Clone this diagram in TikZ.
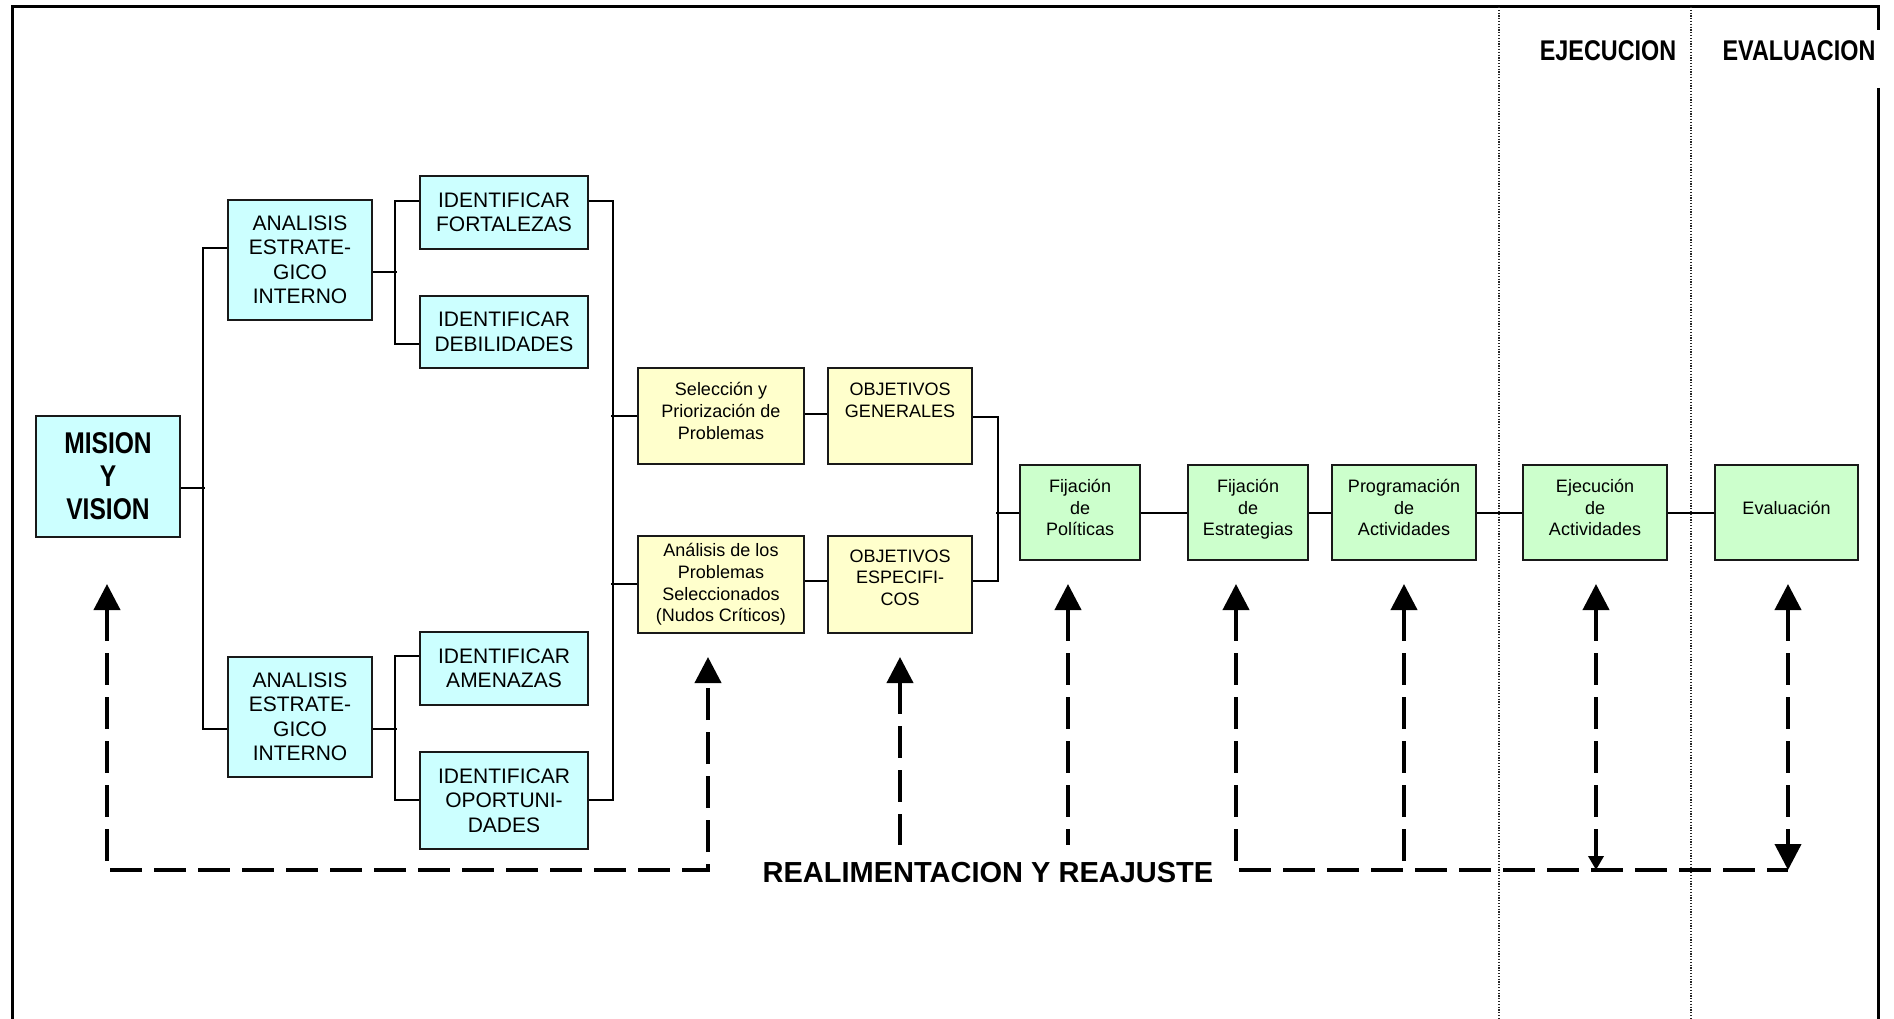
\documentclass[tikz,border=0pt]{standalone}
\usepackage{fontspec}
\setmainfont{Liberation Sans}
\newfontfamily\narrowbold[FakeStretch=0.82]{Liberation Sans}
\usetikzlibrary{arrows.meta,calc}

\definecolor{boxblue}{HTML}{CCFFFF}
\definecolor{boxyellow}{HTML}{FFFFCC}
\definecolor{boxgreen}{HTML}{CCFFCC}

\tikzset{
  box/.style={draw=black!90, line width=2pt, anchor=north west, inner sep=0pt,
              align=center},
  bluebox/.style={box, fill=boxblue, font=\fontsize{21}{24.5}\selectfont},
  yellowbox/.style={box, fill=boxyellow, text depth=10pt, font=\fontsize{18}{21.7}\selectfont},
  greenbox/.style={box, fill=boxgreen, text depth=10pt, font=\fontsize{18}{21.7}\selectfont},
  conn/.style={line width=2pt, black},
  fb/.style={line width=4pt, dash pattern=on 32pt off 12pt, line join=miter},
  >={Triangle[width=26pt,length=26pt]},
  smalltip/.tip={Triangle[width=15pt,length=14pt]},
  header/.style={inner sep=0pt, font=\narrowbold\bfseries\fontsize{28.5}{32}\selectfont},
  sep/.style={line width=1.2pt, black!85, dash pattern=on 1.2pt off 1.6pt},
}

\begin{document}
\begin{tikzpicture}[x=1pt, y=-1pt]
\useasboundingbox (0,0) rectangle (1894,1019);
\fill[white] (0,0) rectangle (1894,1019);

% page frame and phase separators
\draw[line width=3pt, line join=miter] (12,1019) -- (12,7) -- (1878,7) -- (1878,30);
\draw[line width=3pt] (1878,88) -- (1878,1019);
\draw[sep] (1499,7) -- (1499,1019);
\draw[sep] (1691,7) -- (1691,1019);

\node[header] (hej) at (1608,51) {EJECUCION};
\node[header] (hev) at (1799,51) {EVALUACION};

% boxes
\node[bluebox, minimum width=144pt, minimum height=121pt,
      font=\narrowbold\bfseries\fontsize{30}{33}\selectfont] (mv) at (35,415) {MISION\\Y\\VISION};
\node[bluebox, minimum width=144pt, minimum height=120pt] (aet) at (227,199) {ANALISIS\\ESTRATE-\\GICO\\INTERNO};
\node[bluebox, minimum width=168pt, minimum height=73pt] (fort) at (419,175) {IDENTIFICAR\\FORTALEZAS};
\node[bluebox, minimum width=168pt, minimum height=72pt] (deb) at (419,295) {IDENTIFICAR\\DEBILIDADES};
\node[bluebox, minimum width=144pt, minimum height=120pt] (aeb) at (227,656) {ANALISIS\\ESTRATE-\\GICO\\INTERNO};
\node[bluebox, minimum width=168pt, minimum height=73pt] (ame) at (419,631) {IDENTIFICAR\\AMENAZAS};
\node[bluebox, minimum width=168pt, minimum height=97pt] (opo) at (419,751) {IDENTIFICAR\\OPORTUNI-\\DADES};

\node[yellowbox, minimum width=166pt, minimum height=96pt] (sel) at (637,367) {Selección y\\Priorización de\\Problemas};
\node[yellowbox, minimum width=166pt, minimum height=97pt, text depth=3.8pt] (ana) at (637,535) {Análisis de los\\Problemas\\Seleccionados\\(Nudos Críticos)};
\node[yellowbox, minimum width=144pt, minimum height=96pt] (og) at (827,367) {OBJETIVOS\\GENERALES\\\mbox{}};
\node[yellowbox, minimum width=144pt, minimum height=97pt, text depth=14pt] (oe) at (827,535) {OBJETIVOS\\ESPECIFI-\\COS};

\node[greenbox, minimum width=120pt, minimum height=95pt] (fp) at (1019,464) {Fijación\\de\\Políticas};
\node[greenbox, minimum width=120pt, minimum height=95pt] (fe) at (1187,464) {Fijación\\de\\Estrategias};
\node[greenbox, minimum width=144pt, minimum height=95pt] (pa) at (1331,464) {Programación\\de\\Actividades};
\node[greenbox, minimum width=144pt, minimum height=95pt] (ea) at (1522,464) {Ejecución\\de\\Actividades};
\node[greenbox, minimum width=143pt, minimum height=95pt] (ev) at (1714,464) {Evaluación};

% tree connectors
\draw[conn] ($(mv.east)+(0,11.5)$) -- ++(24,0);
\draw[conn] ($(aet.west)+(0,-12)$) -- ++(-24,0) |- ($(aeb.west)+(0,12)$);

\draw[conn] ($(aet.east)+(0,12)$) -- ++(24,0);
\draw[conn] ($(fort.west)+(0,-11.5)$) -- ++(-24,0) |- ($(deb.west)+(0,12)$);

\draw[conn] ($(aeb.east)+(0,12)$) -- ++(24,0);
\draw[conn] ($(ame.west)+(0,-12.5)$) -- ++(-24,0) |- ($(opo.west)+(0,-0.5)$);

\draw[conn] ($(fort.east)+(0,-11.5)$) -- ++(24,0) |- ($(opo.east)+(0,-0.5)$);
\draw[conn] (sel.west) -- ++(-26,0);
\draw[conn] ($(ana.west)+(0,-0.5)$) -- ++(-26,0);

\draw[conn] ($(sel.east)+(0,-2)$) -- ($(og.west)+(0,-2)$);
\draw[conn] ($(ana.east)+(0,-3.5)$) -- ($(oe.west)+(0,-3.5)$);
\draw[conn] ($(og.east)+(0,1)$) -- ++(25,0) |- ($(oe.east)+(0,-3.5)$);
\draw[conn] (fp.west) -- ++(-23,0);

\draw[conn] (fp) -- (fe);
\draw[conn] (fe) -- (pa);
\draw[conn] (pa) -- (ea);
\draw[conn] (ea) -- (ev);

% feedback loop ends
\coordinate (tmv) at (107,584);
\coordinate (tana) at (708,657);
\coordinate (toe) at (900,657);
\coordinate (boe) at (900,845);
\coordinate (tfp) at (1068,584);
\coordinate (bfp) at (1068,845);
\coordinate (tfe) at (1236,584);
\coordinate (tpa) at (1404,584);
\coordinate (bpa) at (1404,870);
\coordinate (tea) at (1596,584);
\coordinate (bea) at (1596,870);
\coordinate (tev) at (1788,584);
\coordinate (bev) at (1788,870);

\draw[fb, <->] (tmv) -- (107,870) -- (708,870) -- (tana);
\draw[fb, <-] (toe) -- (boe);
\draw[fb, <-] (tfp) -- (bfp);
\draw[fb, <-] (tfe) -- (1236,870) -- (bev);
\draw[fb, <-] (tpa) -- (bpa);
\draw[fb, <-smalltip] (tea) -- (bea);
\draw[fb, <->] (tev) -- (bev);

\node[inner sep=0pt, font=\bfseries\fontsize{29}{33}\selectfont] (lbl) at (988,873) {REALIMENTACION Y REAJUSTE};
\end{tikzpicture}
\end{document}
